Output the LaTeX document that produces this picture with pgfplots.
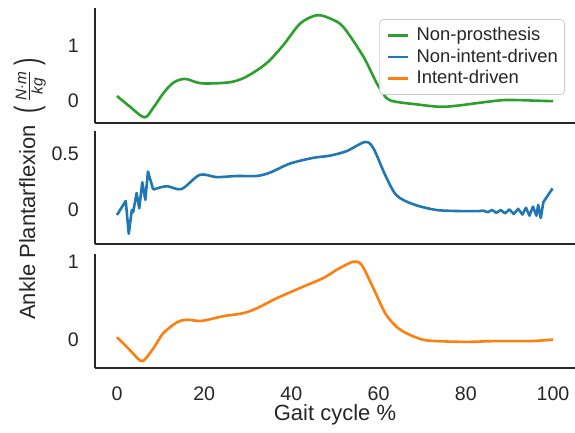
\documentclass[border=0pt]{standalone}
\usepackage{amsmath}
\usepackage{graphicx}
\usepackage{fontspec}
\setmainfont{Liberation Sans}
\usepackage{pgfplots}
\pgfplotsset{compat=1.18}
\definecolor{cGreen}{HTML}{2CA02C}
\definecolor{cBlue}{HTML}{1F77B4}
\definecolor{cOrange}{HTML}{FF7F0E}
\definecolor{cInk}{RGB}{38,38,38}
\newcommand{\tallparen}[1]{\raisebox{-1.65pt}{\scalebox{1}[1.55]{#1}}}
\pgfplotsset{
  panel/.style={
    scale only axis, width=239.8pt,
    xmin=-5, xmax=105,
    axis x line*=bottom, axis y line*=left,
    axis line style={cInk, line width=1.1pt},
    major tick length=0pt,
    xtick={0,20,40,60,80,100},
    /pgf/number format/assume math mode=true,
    tick label style={font=\fontsize{9.8}{11}\selectfont, text=cInk, inner sep=0pt},
    yticklabel style={anchor=east, xshift=-8pt},
    xticklabel style={anchor=north, yshift=-9.3pt},
    every axis plot/.append style={line width=1.3pt, line join=round},
  }
}
\begin{document}
\begin{tikzpicture}
\useasboundingbox (0,0) rectangle (287.5pt,-216.5pt);

% ------------------------------------------------ top: non-prosthesis
\begin{axis}[panel, at={(47.6pt,-4.25pt)}, anchor=north west, height=57.25pt,
  ymin=-0.39, ymax=1.66, ytick={0,1}, xticklabels={},
  legend cell align=left,
  legend image code/.code={\draw[#1] (0pt,0pt) -- (10.3pt,0pt);},
  legend style={at={(rel axis cs:0.9796,0.9083)}, anchor=north east,
    draw=black!20, rounded corners=2pt, fill=white,
    font=\fontsize{9.2}{10}\selectfont, text=cInk,
    inner xsep=3.4pt, inner ysep=3.5pt, row sep=1.8pt,
    nodes={inner sep=0pt, text height=7pt, text depth=2pt},
    /tikz/column sep=3.5pt}]
\addplot[cGreen, smooth, tension=0.5] coordinates {
  (0,0.093) (3,-0.10) (6.3,-0.29) (8.3,-0.12) (10.6,0.14) (12.9,0.33) (15.6,0.40)
  (19.4,0.32) (25.9,0.34) (29.7,0.44) (34.3,0.68) (38.1,1.00) (42,1.39)
  (45.8,1.54) (48.9,1.48) (51.9,1.33) (56.5,0.80) (59.6,0.32) (61.9,0.05)
  (64,-0.01) (68,-0.05) (74,-0.10) (78,-0.08) (81,-0.05) (85,-0.01)
  (88.6,0.02) (92,0.02) (96,0.01) (100,0.0)};
\addlegendentry{Non-prosthesis}
\addlegendimage{cBlue, line width=1.3pt}
\addlegendentry{Non-intent-driven}
\addlegendimage{cOrange, line width=1.3pt}
\addlegendentry{Intent-driven}
\end{axis}

% ------------------------------------------------ middle: non-intent-driven
\begin{axis}[panel, at={(47.6pt,-65.5pt)}, anchor=north west, height=56.5pt,
  ymin=-0.30, ymax=0.697, ytick={0,0.5}, xticklabels={}]
\addplot[cBlue] coordinates {
  (0,-0.044) (2,0.08) (2.7,-0.21) (3.4,0.0) (3.7,-0.02) (4.5,0.15) (5.1,0.015)
  (5.8,0.245) (6.5,0.09) (7.1,0.34) (8.3,0.18)};
\addplot[cBlue, smooth, tension=0.5] coordinates {
  (8.3,0.18) (11.4,0.21) (14.8,0.185) (19,0.31) (22.9,0.29) (27.4,0.30)
  (32,0.30) (35.1,0.33) (39.7,0.41) (45,0.46) (48.9,0.48) (52.7,0.52)
  (56.9,0.60) (58.8,0.545) (61.5,0.31) (64.1,0.13) (68,0.05) (73.3,0.0)
  (79.4,-0.01) (83,-0.01)};
\addplot[cBlue] coordinates {
  (83,-0.01) (84,-0.005) (85,-0.02) (86,0.0) (87,-0.025) (88,0.0) (89,-0.03)
  (90,0.005) (91,-0.035) (92,0.01) (93,-0.04) (93.8,0.02) (94.6,-0.05)
  (95.4,0.03) (96.2,-0.05) (96.6,0.045) (97.2,-0.07) (97.8,0.07) (99.9,0.19)};
\end{axis}

% ------------------------------------------------ bottom: intent-driven
\begin{axis}[panel, at={(47.6pt,-127pt)}, anchor=north west, height=57pt,
  ymin=-0.366, ymax=1.10, ytick={0,1},
  xlabel={Gait cycle \%},
  xlabel style={at={(axis description cs:0.5,0)}, anchor=base, yshift=-26.5pt,
    font=\fontsize{11}{13}\selectfont, text=cInk, inner sep=0pt}]
\addplot[cOrange, smooth, tension=0.5] coordinates {
  (0,0.03) (2.7,-0.12) (5.3,-0.27) (6.4,-0.255) (8.5,-0.10) (10.6,0.08)
  (13.7,0.22) (16,0.255) (19.4,0.24) (24.4,0.30) (29,0.34) (32,0.40)
  (36.6,0.53) (42.7,0.68) (47.3,0.79) (50.8,0.91) (54.2,1.00) (56.1,0.96)
  (58.8,0.66) (61.5,0.34) (64,0.17) (66.4,0.08) (70,0.0) (73.3,-0.02)
  (80,-0.03) (87,-0.02) (95,-0.02) (100,0.0)};
\end{axis}

% shared y label: words and unit set apart so each sits where the reference has it
\node[rotate=90, anchor=base, inner sep=0pt, text=cInk, font=\fontsize{11}{13}\selectfont]
  at (17.5pt,-111.25pt) {Ankle Plantarflexion};
\node[rotate=90, anchor=base, inner sep=0pt, text=cInk, font=\fontsize{11}{13}\selectfont]
  at (17.5pt,-43pt) {\tallparen{(}\,$\frac{\text{\itshape N}\cdot\text{\itshape m}}{\text{\itshape kg}}$\,\tallparen{)}};
\end{tikzpicture}
\end{document}
